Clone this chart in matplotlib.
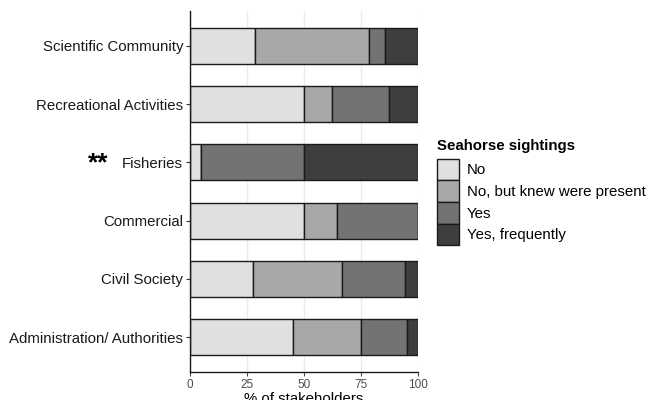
import numpy as np
import matplotlib.pyplot as plt
from matplotlib.patches import Patch

plt.rcParams['font.family'] = ['Liberation Sans', 'DejaVu Sans']

# stakeholder groups, bottom to top
groups = ['Administration/ Authorities', 'Civil Society', 'Commercial',
          'Fisheries', 'Recreational Activities', 'Scientific Community']
answers = ['No', 'No, but knew were present', 'Yes', 'Yes, frequently']

# % of stakeholders per answer, same order as groups
no = [45.0, 27.8, 50.0, 5.0, 50.0, 28.6]
no_knew = [30.0, 38.9, 14.3, 0.0, 12.5, 50.0]
yes = [20.0, 27.8, 35.7, 45.0, 25.0, 7.1]
yes_freq = [5.0, 5.5, 0.0, 50.0, 12.5, 14.3]

fills = ['#e0e0e0', '#a8a8a8', '#737373', '#3e3e3e']

fig = plt.figure(figsize=(6.48, 4.0), dpi=100)
ax = fig.add_axes([0.2932, 0.07, 0.3518, 0.9025])

ypos = np.arange(1, len(groups) + 1)
left = np.zeros(len(groups))
for vals, col in zip([no, no_knew, yes, yes_freq], fills):
    ax.barh(ypos, vals, left=left, height=0.62, color=col,
            edgecolor='#1a1a1a', linewidth=1.0, zorder=2)
    left += np.array(vals)

ax.set_xlim(0, 100)
ax.set_ylim(0.4, 6.6)
ax.set_xticks([0, 25, 50, 75, 100])
ax.set_yticks(ypos)
ax.set_yticklabels(groups, fontsize=10.8, color='#1a1a1a')
ax.tick_params(axis='x', labelsize=8.5, colors='#4d4d4d', length=3, pad=2)
ax.tick_params(axis='y', length=3, pad=2, color='#333333')
ax.grid(axis='x', color='#ebebeb', linewidth=1.0, zorder=0)
for s in ['top', 'right']:
    ax.spines[s].set_visible(False)
for s in ['left', 'bottom']:
    ax.spines[s].set_color('#1a1a1a')
    ax.spines[s].set_linewidth(1.0)
ax.set_xlabel('% of stakeholders', fontsize=10.8, labelpad=1)

# significance marker next to Fisheries
ax.text(-0.404, 3.98, '**', transform=ax.get_yaxis_transform(), fontsize=19,
        fontweight='bold', ha='center', va='center')

handles = [Patch(facecolor=c, edgecolor='#1a1a1a', linewidth=1.0) for c in fills]
leg = fig.legend(handles, answers, loc='upper left', bbox_to_anchor=(0.674, 0.652),
                 title='Seahorse sightings', frameon=False, fontsize=10.8,
                 title_fontsize=10.8, handlelength=1.45, handleheight=1.84,
                 handletextpad=0.55, labelspacing=0.0, borderaxespad=0,
                 borderpad=0)
leg.get_title().set_fontweight('bold')
leg._legend_box.align = 'left'
leg._legend_box.sep = 4

plt.savefig('out.png', dpi=100)
